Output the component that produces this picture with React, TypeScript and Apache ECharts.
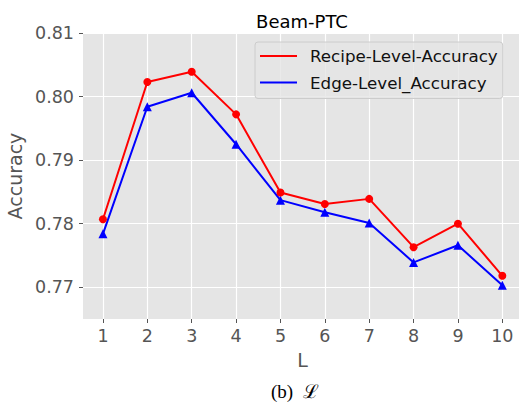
import React, { useEffect, useRef } from "react";
import * as echarts from "echarts";

const layers = [1, 2, 3, 4, 5, 6, 7, 8, 9, 10];
const recipeAcc = [0.7807, 0.8023, 0.8039, 0.7972, 0.7849, 0.7831, 0.7839, 0.7763, 0.7800, 0.7718];
const edgeAcc = [0.7784, 0.7984, 0.8006, 0.7925, 0.7837, 0.7818, 0.7801, 0.7739, 0.7766, 0.7703];
const yTicks = [0.77, 0.78, 0.79, 0.8, 0.81];
const xTicks = [1, 2, 3, 4, 5, 6, 7, 8, 9, 10];

export default function App() {
  const ref = useRef<HTMLDivElement>(null);
  useEffect(() => {
    if (!ref.current) return;
    const chart = echarts.init(ref.current, null, { renderer: "svg" });
    const font = "'DejaVu Sans', sans-serif";
    chart.setOption({
      animation: false,
      backgroundColor: "#ffffff",
      title: {
        text: "Beam-PTC",
        left: 297,
        textAlign: "center",
        top: 7,
        textStyle: { fontFamily: font, fontSize: 18, fontWeight: "normal", color: "#000" },
      },
      grid: {
        left: 83,
        top: 33,
        right: 2.7,
        bottom: 83,
        show: true,
        backgroundColor: "#E5E5E5",
        borderWidth: 0,
        outerBoundsMode: "none",
        containLabel: false,
      },
      legend: {
        orient: "vertical",
        left: 255,
        top: 42,
        padding: [4, 5, 6, 5],
        itemWidth: 37,
        itemHeight: 2,
        itemGap: 6.5,
        backgroundColor: "rgba(229,229,229,0.8)",
        borderColor: "#cccccc",
        borderWidth: 1,
        borderRadius: 3,
        textStyle: { fontFamily: font, fontSize: 16.7, color: "#111", lineHeight: 20, padding: [0, 0, 0, 8] },
        data: [
          { name: "Recipe-Level-Accuracy", icon: "rect" },
          { name: "Edge-Level_Accuracy", icon: "rect" },
        ],
      },
      xAxis: {
        type: "value",
        min: 0.55,
        max: 10.45,
        name: "L",
        nameLocation: "middle",
        nameGap: 31,
        nameTextStyle: { fontFamily: font, fontSize: 19, color: "#555555" },
        axisLine: { show: false },
        axisTick: { show: true, length: 4, lineStyle: { color: "#555555" }, customValues: xTicks },
        axisLabel: { fontFamily: font, fontSize: 17.5, color: "#555555", margin: 8, customValues: xTicks },
        splitLine: { show: true, lineStyle: { color: "#ffffff", width: 1.2 } },
      },
      yAxis: {
        type: "value",
        min: 0.765,
        max: 0.81,
        name: "Accuracy",
        nameLocation: "middle",
        nameGap: 53,
        nameTextStyle: { fontFamily: font, fontSize: 19, color: "#555555" },
        axisLine: { show: false },
        axisTick: { show: true, length: 4, lineStyle: { color: "#555555" }, customValues: yTicks },
        axisLabel: {
          fontFamily: font,
          fontSize: 17.5,
          color: "#555555",
          margin: 9,
          customValues: yTicks,
          formatter: (v: number) => v.toFixed(2),
        },
        splitLine: { show: true, lineStyle: { color: "#ffffff", width: 1.2 } },
      },
      series: [
        {
          name: "Recipe-Level-Accuracy",
          type: "line",
          data: layers.map((l, i) => [l, recipeAcc[i]]),
          symbol: "circle",
          symbolSize: 8,
          lineStyle: { color: "#ff0000", width: 2 },
          itemStyle: { color: "#ff0000" },
          z: 3,
        },
        {
          name: "Edge-Level_Accuracy",
          type: "line",
          data: layers.map((l, i) => [l, edgeAcc[i]]),
          symbol: "triangle",
          symbolSize: 9,
          lineStyle: { color: "#0000ff", width: 2 },
          itemStyle: { color: "#0000ff" },
          z: 2,
        },
      ],
      graphic: [
        {
          type: "text",
          left: 271,
          top: 382,
          style: {
            text: "(b)  ℒ",
            fontFamily: "'Liberation Serif', 'DejaVu Serif', serif",
            fontSize: 19,
            fill: "#000",
          },
        },
      ],
    });
    return () => chart.dispose();
  }, []);
  return (
    <div style={{ position: "fixed", left: 0, top: 0, width: 519, height: 402, overflow: "hidden", background: "#fff" }}>
      <div ref={ref} style={{ width: 525, height: 402 }} />
    </div>
  );
}
